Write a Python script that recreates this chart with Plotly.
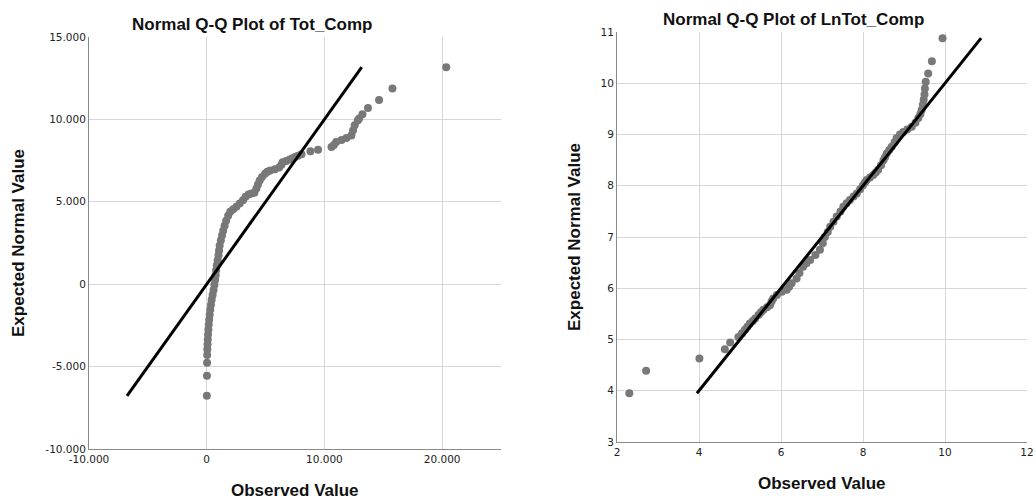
import plotly.graph_objects as go

# ---- Left panel: Tot_Comp (observed vs expected normal) ----
tot_expected = [-6770, -5560, -4770, -4300, -3950, -3650, -3350, -3050, -2750, -2450,
                -2150, -1850, -1550, -1250, -950, -650, -350, -50, 250, 550,
                850, 1150, 1450, 1750, 2050, 2350, 2650, 2950, 3250, 3550,
                3850, 4150, 4400, 4550, 4700, 4900, 5100, 5300, 5450, 5500,
                5550, 5800, 6050, 6300, 6500, 6700, 6820, 6900, 6980, 7080,
                7250, 7400, 7480, 7560, 7650, 7720, 7800, 7880, 8060, 8160,
                8320, 8450, 8630, 8750, 8870, 9030, 9330, 9640, 9940, 10050,
                10320, 10690, 11170, 11880, 13170]
tot_observed = [10, 20, 30, 40, 50, 70, 90, 110, 140, 170,
                210, 250, 300, 360, 420, 500, 580, 650, 710, 760,
                800, 860, 930, 1000, 1050, 1100, 1200, 1300, 1400, 1520,
                1650, 1820, 2000, 2250, 2520, 2800, 3080, 3300, 3550, 3800,
                4050, 4220, 4350, 4500, 4700, 4950, 5150, 5400, 5800, 6150,
                6350, 6450, 6750, 7050, 7300, 7500, 7750, 8050, 8810, 9460,
                10600, 10800, 11000, 11450, 11870, 12290, 12430, 12570, 12830, 12950,
                13230, 13700, 14640, 15780, 20350]

# ---- Right panel: LnTot_Comp ----
ln_expected = [3.95, 4.39, 4.63, 4.81, 4.94, 5.05, 5.12, 5.19, 5.25, 5.31,
               5.36, 5.41, 5.48, 5.53, 5.58, 5.63, 5.67, 5.74, 5.80, 5.87,
               5.93, 5.97, 6.03, 6.10, 6.19, 6.30, 6.42, 6.49, 6.55, 6.65,
               6.75, 6.88, 7.00, 7.10, 7.20, 7.30, 7.40, 7.50, 7.59, 7.66,
               7.72, 7.79, 7.85, 7.93, 8.01, 8.07, 8.11, 8.16, 8.21, 8.26,
               8.31, 8.40, 8.50, 8.56, 8.63, 8.70, 8.76, 8.85, 8.93, 9.00,
               9.05, 9.10, 9.15, 9.23, 9.32, 9.40, 9.48, 9.58, 9.68, 9.78,
               9.90, 10.03, 10.19, 10.43, 10.88]
ln_observed = [2.30, 2.71, 4.01, 4.63, 4.76, 4.96, 5.05, 5.12, 5.18, 5.24,
               5.31, 5.37, 5.45, 5.51, 5.57, 5.66, 5.73, 5.77, 5.81, 5.90,
               6.02, 6.14, 6.20, 6.26, 6.38, 6.45, 6.54, 6.62, 6.71, 6.84,
               6.95, 7.02, 7.07, 7.14, 7.20, 7.28, 7.36, 7.45, 7.52, 7.60,
               7.68, 7.77, 7.85, 7.93, 8.00, 8.05, 8.09, 8.17, 8.25, 8.31,
               8.37, 8.44, 8.50, 8.54, 8.58, 8.64, 8.70, 8.77, 8.82, 8.90,
               8.98, 9.08, 9.19, 9.28, 9.35, 9.40, 9.43, 9.46, 9.48, 9.50,
               9.51, 9.53, 9.59, 9.68, 9.94]

left_xticks = [-10000, 0, 10000, 20000]
left_xtick_text = ["-10.000", "0", "10.000", "20.000"]
left_yticks = [-10000, -5000, 0, 5000, 10000, 15000]
left_ytick_text = ["-10.000", "-5.000", "0", "5.000", "10.000", "15.000"]
right_xticks = [2, 4, 6, 8, 10, 12]
right_yticks = [3, 4, 5, 6, 7, 8, 9, 10, 11]

W, H = 1036, 501
PT_COLOR = "#787878"
GRID = "#d6d6d6"
AXLINE = "#8a8a8a"
TICKFONT = dict(family="DejaVu Sans", size=10.5, color="#222222")
TITLEFONT = dict(family="Liberation Sans", size=17, color="#111111")

fig = go.Figure()

fig.add_trace(go.Scatter(x=tot_observed, y=tot_expected, mode="markers",
                         marker=dict(color=PT_COLOR, size=8, line=dict(width=0)),
                         xaxis="x", yaxis="y", showlegend=False, hoverinfo="x+y",
                         cliponaxis=False))
tl = [min(tot_expected), max(tot_expected)]
fig.add_trace(go.Scatter(x=tl, y=tl, mode="lines",
                         line=dict(color="black", width=3),
                         xaxis="x", yaxis="y", showlegend=False, hoverinfo="skip"))

fig.add_trace(go.Scatter(x=ln_observed, y=ln_expected, mode="markers",
                         marker=dict(color=PT_COLOR, size=8, line=dict(width=0)),
                         xaxis="x2", yaxis="y2", showlegend=False, hoverinfo="x+y",
                         cliponaxis=False))
ll = [min(ln_expected), max(ln_expected)]
fig.add_trace(go.Scatter(x=ll, y=ll, mode="lines",
                         line=dict(color="black", width=3),
                         xaxis="x2", yaxis="y2", showlegend=False, hoverinfo="skip"))

def px_x(p):
    return p / W

def px_y(p):
    return (H - p) / H

axis_common = dict(showgrid=True, gridcolor=GRID, gridwidth=1, zeroline=False,
                   showline=True, linecolor=AXLINE, linewidth=1, ticks="",
                   tickfont=TICKFONT, fixedrange=True, automargin=False)

fig.update_layout(
    width=W, height=H,
    margin=dict(l=0, r=0, t=0, b=0, autoexpand=False),
    paper_bgcolor="white", plot_bgcolor="white",
    xaxis=dict(domain=[px_x(89), px_x(501)], range=[-10000, 25000], anchor="y",
               tickvals=left_xticks, ticktext=left_xtick_text, **axis_common),
    yaxis=dict(domain=[px_y(449), px_y(37)], range=[-10000, 15000], anchor="x",
               tickvals=left_yticks, ticktext=left_ytick_text, **axis_common),
    xaxis2=dict(domain=[px_x(617), px_x(1027)], range=[2, 12], anchor="y2",
                tickvals=right_xticks, **axis_common),
    yaxis2=dict(domain=[px_y(442), px_y(32)], range=[3, 11], anchor="x2",
                tickvals=right_yticks, **axis_common),
)

ann = [
    ("<b>Normal Q-Q Plot of Tot_Comp</b>", 252, 24, 0),
    ("<b>Normal Q-Q Plot of LnTot_Comp</b>", 793, 20, 0),
    ("<b>Observed Value</b>", 295, 490, 0),
    ("<b>Observed Value</b>", 822, 483, 0),
    ("<b>Expected Normal Value</b>", 18, 243, -90),
    ("<b>Expected Normal Value</b>", 575, 237, -90),
]
for text, x, y, ang in ann:
    fig.add_annotation(text=text, x=px_x(x), y=px_y(y), xref="paper", yref="paper",
                       xanchor="center", yanchor="middle", showarrow=False,
                       textangle=ang, font=TITLEFONT)

fig.write_html("out.html",
               config={"displayModeBar": False},
               post_script="document.body.style.margin='0';document.body.style.overflow='hidden';")
